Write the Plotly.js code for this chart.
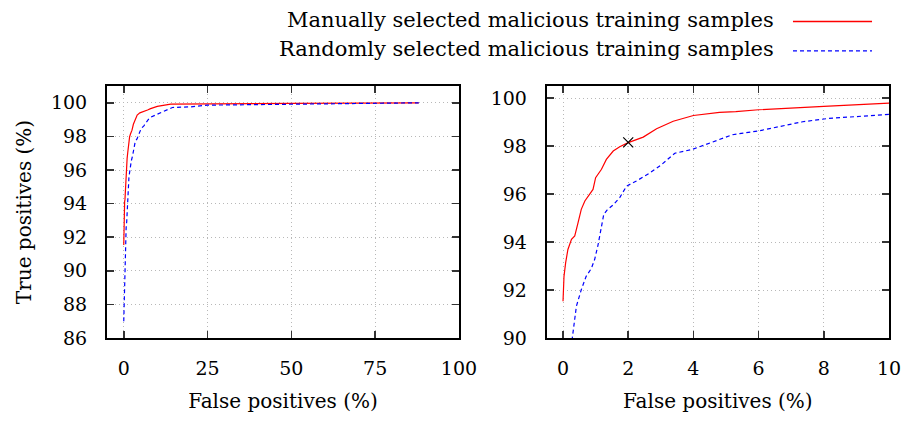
<!DOCTYPE html>
<html>
<head>
<meta charset="utf-8">
<script src="https://cdn.plot.ly/plotly-3.0.1.min.js"></script>
<style>html,body{margin:0;padding:0;background:#fff;}#chart{width:907px;height:423px;}</style>
</head>
<body>
<div id="chart"></div>
<script>
// ---- data ----
const seriesNames = ["Manually selected malicious training samples", "Randomly selected malicious training samples"];
const fpManual = [0, 0.03, 0.08, 0.15, 0.26, 0.36, 0.46, 0.56, 0.67, 0.82, 0.92, 1.0, 1.18, 1.33, 1.54, 1.74, 2.0, 2.46, 2.87, 3.38, 4.0, 4.8, 5.3, 6.0, 7.1, 8.0, 10.0, 14, 25, 50, 88];
const tpManual = [91.53, 92.57, 93.13, 93.69, 94.11, 94.25, 94.8, 95.36, 95.71, 95.99, 96.19, 96.68, 97.03, 97.44, 97.79, 97.97, 98.14, 98.37, 98.72, 99.03, 99.27, 99.4, 99.43, 99.51, 99.57, 99.65, 99.79, 99.92, 99.94, 99.97, 100.0];
const fpRandom = [0, 0.41, 0.56, 0.71, 0.87, 0.97, 1.07, 1.17, 1.25, 1.35, 1.54, 1.74, 1.95, 2.25, 2.63, 3.0, 3.43, 3.95, 4.45, 5.2, 6.0, 6.75, 7.35, 8.15, 9.2, 10.0, 14.5, 20, 25, 50, 88];
const tpRandom = [87.0, 91.32, 92.01, 92.57, 92.9, 93.27, 93.85, 94.6, 95.15, 95.33, 95.55, 95.85, 96.33, 96.54, 96.85, 97.2, 97.7, 97.85, 98.1, 98.47, 98.63, 98.84, 99.01, 99.15, 99.26, 99.32, 99.72, 99.76, 99.86, 99.92, 100.0];
const markerFP = [2];
const markerTP = [98.15];
const xTicksLeft = [0, 25, 50, 75, 100];
const yTicksLeft = [86, 88, 90, 92, 94, 96, 98, 100];
const xTicksRight = [0, 2, 4, 6, 8, 10];
const yTicksRight = [90, 92, 94, 96, 98, 100];
const xTitle = "False positives (%)";
const yTitle = "True positives (%)";

// ---- styling ----
const FONT = "DejaVu Serif";
const red = "#ff0000", blue = "#0000ff";
const redLine = {color: red, width: 1.2};
const blueLine = {color: blue, width: 1.2, dash: "4px,3px"};

const traces = [
  {x: fpManual, y: tpManual, xaxis: "x", yaxis: "y", mode: "lines", name: seriesNames[0], line: redLine, showlegend: false},
  {x: fpRandom, y: tpRandom, xaxis: "x", yaxis: "y", mode: "lines", name: seriesNames[1], line: blueLine, showlegend: false},
  {x: fpManual, y: tpManual, xaxis: "x2", yaxis: "y2", mode: "lines", name: seriesNames[0], line: redLine, showlegend: false},
  {x: fpRandom, y: tpRandom, xaxis: "x2", yaxis: "y2", mode: "lines", name: seriesNames[1], line: blueLine, showlegend: false},
  {x: markerFP, y: markerTP, xaxis: "x2", yaxis: "y2", mode: "markers", name: "operating point",
   marker: {symbol: "x-thin-open", size: 10, color: "#000", line: {color: "#000", width: 1.2}}, showlegend: false}
];

function axisBase(extra) {
  return Object.assign({
    showline: true, linecolor: "#000", linewidth: 2, mirror: "ticks",
    ticks: "inside", ticklen: 7, tickwidth: 1.5, tickcolor: "#333",
    showgrid: true, gridcolor: "#b8b8b8", gridwidth: 1, griddash: "1px,3px",
    zeroline: false, tickfont: {family: FONT, size: 19, color: "#000"},
    ticklabelstandoff: 12, automargin: false
  }, extra);
}

const layout = {
  width: 907, height: 423,
  margin: {l: 107, r: 18, t: 86, b: 85},
  paper_bgcolor: "#fff", plot_bgcolor: "#fff",
  font: {family: FONT, size: 19, color: "#000"},
  showlegend: false,
  xaxis: axisBase({domain: [0, 0.4501], range: [-5, 100], tickvals: xTicksLeft, anchor: "y",
    title: {text: xTitle, font: {family: FONT, size: 20}, standoff: 16}}),
  yaxis: axisBase({domain: [0, 1], range: [86, 101], tickvals: yTicksLeft, anchor: "x", ticklabelstandoff: 14,
    title: {text: yTitle, font: {family: FONT, size: 20}, standoff: 14}}),
  xaxis2: axisBase({domain: [0.5623, 1], range: [-0.5, 10], tickvals: xTicksRight, anchor: "y2",
    title: {text: xTitle, font: {family: FONT, size: 20}, standoff: 16}}),
  yaxis2: axisBase({domain: [0, 1], range: [90, 100.5], tickvals: yTicksRight, anchor: "x2", ticklabelstandoff: 14}),
  annotations: [
    {xref: "paper", yref: "paper", x: 0.8555, y: 1.2619, xanchor: "right", yanchor: "middle", showarrow: false,
     text: seriesNames[0], font: {family: FONT, size: 21, color: "#000"}},
    {xref: "paper", yref: "paper", x: 0.8555, y: 1.1468, xanchor: "right", yanchor: "middle", showarrow: false,
     text: seriesNames[1], font: {family: FONT, size: 21, color: "#000"}}
  ],
  shapes: [
    {type: "line", xref: "paper", yref: "paper", x0: 0.8772, x1: 0.9783, y0: 1.256, y1: 1.256, line: {color: red, width: 1.5}},
    {type: "line", xref: "paper", yref: "paper", x0: 0.8772, x1: 0.9783, y0: 1.139, y1: 1.139, line: {color: blue, width: 1.3, dash: "4px,3px"}}
  ]
};

Plotly.newPlot("chart", traces, layout, {staticPlot: true, displayModeBar: false});
</script>
</body>
</html>
